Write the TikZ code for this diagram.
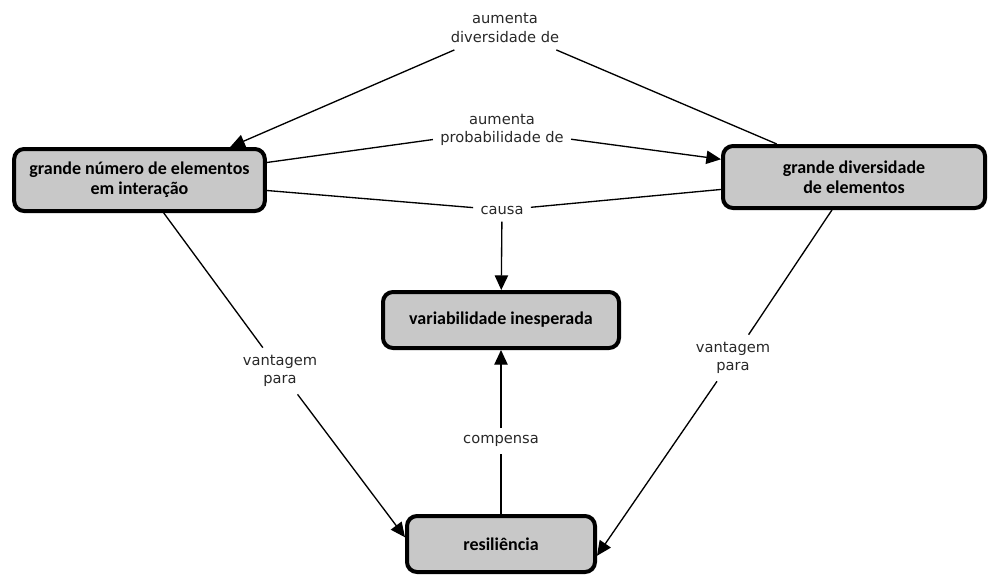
\documentclass[tikz,border=0pt]{standalone}
\usepackage{fontspec}
\setmainfont{DejaVu Sans}
\newfontfamily\conceptfont{Carlito}
\usetikzlibrary{arrows.meta}

\definecolor{conceptgray}{RGB}{200,200,200}
\definecolor{labelgray}{RGB}{40,40,40}

\begin{document}
\begin{tikzpicture}[x=0.75pt,y=-0.75pt]
        \tikzstyle{every path}=[line width=1pt]

        \tikzstyle{concept}=[draw,line width=3pt,rounded corners=7.5pt,fill=conceptgray,
            align=center,inner sep=2pt,font=\conceptfont\bfseries\fontsize{13.5}{15}\selectfont]
        \tikzstyle{linkword}=[align=center,inner sep=5pt,text=labelgray,
            font=\fontsize{11}{14}\selectfont]
        \tikzstyle{link}=[draw]
        \tikzstyle{linkarrow}=[draw,-{Triangle[length=11pt,width=10pt]}]

        \useasboundingbox (0,0) rectangle (988,575);

        \node [concept,minimum width=188pt,minimum height=46.5pt] (A) at (139.5,180)
            {grande número de elementos\\em interação};
        \node [concept,minimum width=196.5pt,minimum height=46.5pt] (B) at (854,177)
            {grande diversidade\\de elementos};
        \node [concept,minimum width=177pt,minimum height=42pt] (C) at (501,320)
            {variabilidade inesperada};
        \node [concept,minimum width=141pt,minimum height=42pt] (D) at (501,544)
            {resiliência};

        \node [linkword] (lDiv) at (505,28) {aumenta\\diversidade de};
        \node [linkword] (lProb) at (502,130) {aumenta\\probabilidade de};
        \node [linkword] (lCausa) at (502,210) {causa};
        \node [linkword] (lVantA) at (280,371) {vantagem\\para};
        \node [linkword] (lVantB) at (733,358) {vantagem\\para};
        \node [linkword] (lComp) at (501,441) {compensa};

        %concept to linking phrase
        \foreach \from/\to in {B/lDiv, A/lProb, A/lCausa, B/lCausa, A/lVantA, B/lVantB, D/lComp} {
            \path [link] (\from) -- (\to);
        };

        %linking phrase to concept
        \path [linkarrow] (lDiv) -- (A.20);
        \path [linkarrow] (lProb) -- (B);
        \path [linkarrow] (lCausa) -- (C);
        \path [linkarrow] (lVantA) -- (D.176);
        \path [linkarrow] (lVantB) -- (D.353);
        \path [linkarrow] (lComp) -- (C);
\end{tikzpicture}
\end{document}
